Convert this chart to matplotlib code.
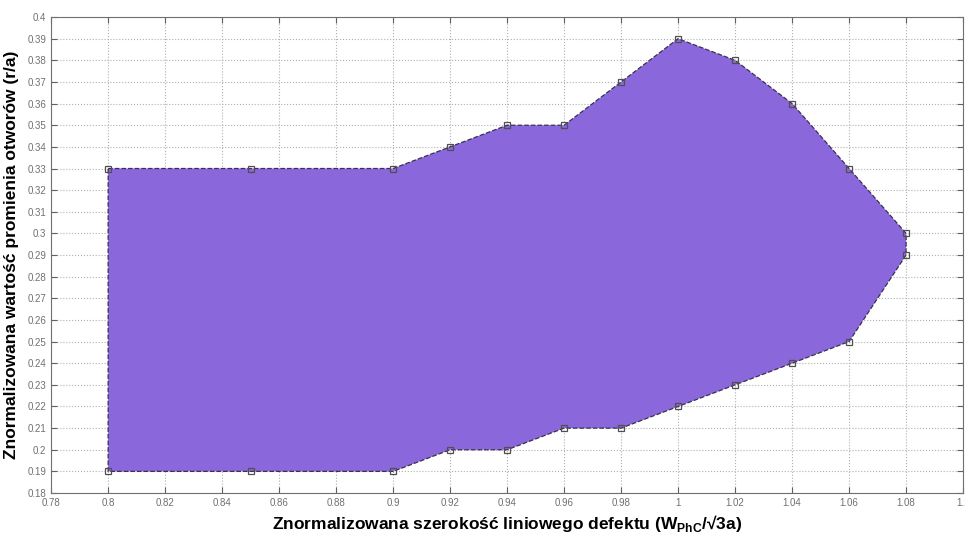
import numpy as np
import matplotlib
matplotlib.use("Agg")
import matplotlib.pyplot as plt

plt.rcParams['font.family'] = ['Liberation Sans', 'DejaVu Sans']
plt.rcParams['mathtext.fontset'] = 'custom'
plt.rcParams['mathtext.rm'] = 'Liberation Sans'
plt.rcParams['mathtext.bf'] = 'Liberation Sans:bold'

# szerokosc defektu i granice obszaru
W = [0.8, 0.85, 0.9, 0.92, 0.94, 0.96, 0.98, 1.0, 1.02, 1.04, 1.06, 1.08]
R_GORA = [0.33, 0.33, 0.33, 0.34, 0.35, 0.35, 0.37, 0.39, 0.38, 0.36, 0.33, 0.30]
R_DOL = [0.19, 0.19, 0.19, 0.20, 0.20, 0.21, 0.21, 0.22, 0.23, 0.24, 0.25, 0.29]

XTICKS = np.round(np.arange(0.78, 1.1001, 0.02), 2)
YTICKS = np.round(np.arange(0.18, 0.4001, 0.01), 2)


def tick_label(v):
    s = ('%.2f' % v).rstrip('0').rstrip('.')
    return s


fig = plt.figure(figsize=(9.65, 5.33), dpi=100)
ax = fig.add_axes([0.053, 0.075, 0.945, 0.893])

# obrys obszaru: gora, prawa krawedz, dol w odwrotnej kolejnosci
xs = W + W[::-1] + [W[0]]
ys = R_GORA + R_DOL[::-1] + [R_GORA[0]]
ax.fill(xs, ys, color='#8a68db', edgecolor='none', zorder=2)
ax.plot(xs, ys, linestyle='--', color='#3a3050', lw=0.9, zorder=3)
ax.plot(W + W, R_GORA + R_DOL, linestyle='none', marker='s', ms=4,
        mfc='none', mec='#505050', mew=0.9, zorder=4)

ax.set_xlim(0.78, 1.1)
ax.set_ylim(0.18, 0.4)
ax.set_xticks(XTICKS)
ax.set_yticks(YTICKS)
ax.set_xticklabels([tick_label(v) for v in XTICKS])
ax.set_yticklabels([tick_label(v) for v in YTICKS])
ax.tick_params(direction='in', length=4, width=0.8, color='#606060',
               labelsize=7, labelcolor='#707070', top=True, right=True)
ax.grid(True, linestyle=':', color='#b0b0b0', lw=0.8, zorder=1)
ax.set_axisbelow(True)
for sp in ax.spines.values():
    sp.set_color('#707070')
    sp.set_linewidth(0.8)

ax.set_xlabel(r'Znormalizowana szerokość liniowego defektu (W$_{\mathbf{PhC}}$/√3a)',
              fontsize=12.5, fontweight='bold', labelpad=4)
ax.set_ylabel('Znormalizowana wartość promienia otworów (r/a)',
              fontsize=12.5, fontweight='bold', labelpad=6)

fig.savefig('out.png', dpi=100)
